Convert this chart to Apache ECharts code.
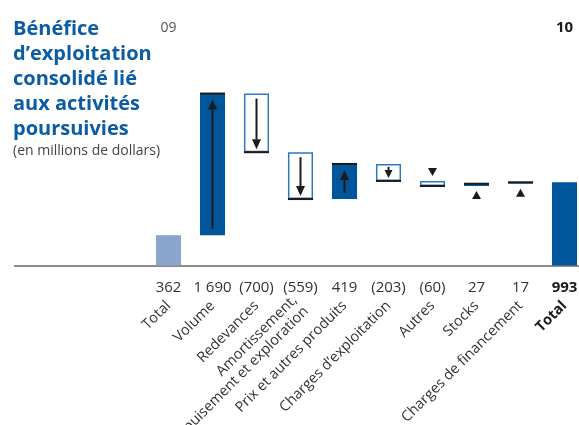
<!DOCTYPE html>
<html>
<head>
<meta charset="utf-8">
<script src="https://cdn.jsdelivr.net/npm/echarts@6/dist/echarts.min.js"></script>
<style>
  html, body { margin: 0; padding: 0; background: #fff; }
  #chart { width: 579px; height: 425px; }
</style>
</head>
<body>
<div id="chart"></div>
<script>
// Bridge of consolidated operating earnings, 2009 -> 2010 (millions of dollars)
const categories = [
  'Total',
  'Volume',
  'Redevances',
  'Amortissement,\népuisement et exploration',
  'Prix et autres produits',
  'Charges d’exploitation',
  'Autres',
  'Stocks',
  'Charges de financement',
  'Total'
];
const openingTotal = 362;
const changes = [1690, -700, -559, 419, -203, -60, 27, 17];
const closingTotal = 993;
const yearLabels = ['09', '10'];

const FONT = '"Open Sans", "Noto Sans", sans-serif';
const DARK = '#00559b';
const LIGHT = '#8ca5cc';
const EDGE = '#2f79bf';
const INK = '#1b1b1b';
const TEXT = '#333333';

// empty slots on the left of the category axis keep the baseline running under the title
const PAD = 3;
const axisCats = Array(PAD).fill('').concat(categories);

// steps: [slot, from, to]
const steps = [];
const kinds = [];
steps.push([PAD, 0, openingTotal]); kinds.push('open');
let running = openingTotal;
changes.forEach((c, i) => {
  steps.push([PAD + 1 + i, running, running + c]);
  kinds.push(c >= 0 ? 'up' : 'down');
  running += c;
});
steps.push([PAD + categories.length - 1, 0, closingTotal]); kinds.push('close');

const stepValues = [openingTotal].concat(changes, [closingTotal]);

function fmt(v) {
  const s = String(Math.abs(v)).replace(/\B(?=(\d{3})+(?!\d))/g, ' ');
  return v < 0 ? '(' + s + ')' : s;
}

function arrowShape(cx, yStart, yTip, headW, headH) {
  const dir = yTip < yStart ? -1 : 1; // -1 pointing up
  const yBase = yTip - dir * headH;
  return [
    { type: 'line', shape: { x1: cx, y1: yStart, x2: cx, y2: yBase },
      style: { stroke: INK, lineWidth: 2 } },
    { type: 'polygon', shape: { points: [[cx - headW / 2, yBase], [cx + headW / 2, yBase], [cx, yTip]] },
      style: { fill: INK } }
  ];
}

function renderStep(params, api) {
  const slot = api.value(0);
  const from = api.value(1);
  const to = api.value(2);
  const kind = kinds[params.dataIndex];
  const bandW = api.size([1, 0])[0];
  const w = bandW * 0.57;
  const cx = api.coord([slot, 0])[0];
  const yFrom = api.coord([slot, from])[1];
  const yTo = api.coord([slot, to])[1];
  const top = Math.min(yFrom, yTo);
  const bottom = Math.max(yFrom, yTo);
  const h = bottom - top;
  const x0 = cx - w / 2;
  const children = [];

  if (kind === 'open' || kind === 'close') {
    children.push({ type: 'rect', shape: { x: x0, y: top, width: w, height: h },
      style: { fill: kind === 'open' ? LIGHT : DARK } });
    return { type: 'group', children };
  }

  if (kind === 'up') {
    children.push({ type: 'rect', shape: { x: x0, y: top, width: w, height: h },
      style: { fill: DARK } });
  } else {
    children.push({ type: 'rect', shape: { x: x0 + 0.75, y: top + 0.75, width: w - 1.5, height: Math.max(h - 1.5, 0) },
      style: { fill: '#fff', stroke: EDGE, lineWidth: 1.5 } });
  }
  // closing edge of the step
  children.push({ type: 'line', shape: { x1: x0, y1: yTo, x2: x0 + w, y2: yTo },
    style: { stroke: INK, lineWidth: 2 } });

  const up = kind === 'up';
  if (h >= 30) {
    if (up) children.push(...arrowShape(cx, bottom - 6, top + 6, 9, 10));
    else children.push(...arrowShape(cx, top + 5, bottom - 3, 9, 10));
  } else if (h >= 12) {
    if (up) children.push(...arrowShape(cx, bottom - 3, top + 3, 8, 8));
    else children.push(...arrowShape(cx, top + 3, bottom - 3, 8, 8));
  } else {
    // too thin for an inner arrow: a marker triangle outside the step
    if (up) {
      const tip = bottom + 5;
      children.push({ type: 'polygon', shape: { points: [[cx - 4.5, tip + 8], [cx + 4.5, tip + 8], [cx, tip]] },
        style: { fill: INK } });
    } else {
      const tip = top - 5;
      children.push({ type: 'polygon', shape: { points: [[cx - 4.5, tip - 8], [cx + 4.5, tip - 8], [cx, tip]] },
        style: { fill: INK } });
    }
  }
  return { type: 'group', children };
}

const chart = echarts.init(document.getElementById('chart'), null, { renderer: 'canvas' });

const lastSlot = axisCats.length - 1;

chart.setOption({
  animation: false,
  backgroundColor: '#ffffff',
  title: [
    {
      text: 'Bénéfice\nd’exploitation\nconsolidé lié\naux activités\npoursuivies',
      left: 13, top: 17, padding: 0,
      textStyle: { fontFamily: FONT, fontSize: 20, fontWeight: 'bold', lineHeight: 25, color: '#0b5ca3' }
    },
    {
      text: '(en millions de dollars)',
      left: 13, top: 143, padding: 0,
      textStyle: { fontFamily: FONT, fontSize: 14, fontWeight: 'normal', lineHeight: 17, color: '#444444' }
    }
  ],
  grid: {
    left: 14.5, top: 56, width: 44 * axisCats.length, height: 209.5,
    containLabel: false, outerBoundsMode: 'none'
  },
  xAxis: [
    {
      // value row, drawn under the baseline
      type: 'category', data: axisCats, position: 'bottom',
      axisLine: { show: true, lineStyle: { color: '#666666', width: 1.5 } },
      axisTick: { show: false },
      splitLine: { show: false },
      axisLabel: {
        interval: 0, margin: 15, fontFamily: FONT, fontSize: 15, color: TEXT,
        formatter: (v, i) => {
          if (i < PAD) return '';
          const val = stepValues[i - PAD];
          return i === lastSlot ? '{b|' + fmt(val) + '}' : fmt(val);
        },
        rich: { b: { fontFamily: FONT, fontSize: 15, fontWeight: 'bold', color: '#1b1b1b' } }
      }
    },
    {
      // category names, slanted
      type: 'category', data: axisCats, position: 'bottom', gridIndex: 0,
      axisLine: { show: false }, axisTick: { show: false }, splitLine: { show: false },
      axisLabel: {
        interval: 0, rotate: 45, margin: 38, fontFamily: FONT, fontSize: 14.5, color: TEXT,
        lineHeight: 16,
        formatter: (v, i) => (i === lastSlot ? '{b|' + v + '}' : v),
        rich: { b: { fontFamily: FONT, fontSize: 14.5, fontWeight: 'bold', color: '#1b1b1b' } }
      }
    },
    {
      // year headers above the two totals
      type: 'category', data: axisCats, position: 'top', gridIndex: 0,
      axisLine: { show: false }, axisTick: { show: false }, splitLine: { show: false },
      axisLabel: {
        interval: 0, margin: 21, fontFamily: FONT, fontSize: 14, color: '#555555',
        formatter: (v, i) => {
          if (i === PAD) return yearLabels[0];
          if (i === lastSlot) return '{b|' + yearLabels[1] + '}';
          return '';
        },
        rich: { b: { fontFamily: FONT, fontSize: 15, fontWeight: 'bold', color: '#1b1b1b' } }
      }
    }
  ],
  yAxis: {
    type: 'value', min: 0, max: 2500, show: false
  },
  series: [{
    type: 'custom',
    xAxisIndex: 0,
    renderItem: renderStep,
    encode: { x: 0, y: [1, 2] },
    data: steps,
    silent: true
  }]
});
</script>
</body>
</html>
